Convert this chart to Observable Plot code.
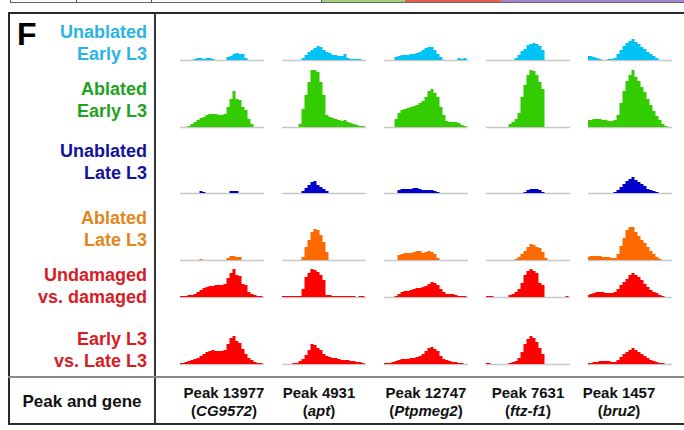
<!DOCTYPE html>
<html><head><meta charset="utf-8">
<script src="https://cdn.jsdelivr.net/npm/d3@7"></script>
<script src="https://cdn.jsdelivr.net/npm/@observablehq/plot@0.6"></script>
<style>
body{margin:0;background:#fff;font-family:"Liberation Sans",Arial,Helvetica,sans-serif;}
#fig{position:relative;width:684px;height:430px;overflow:hidden;background:#fff;}
.abs{position:absolute;}
.lab{position:absolute;right:537px;text-align:right;font-weight:bold;font-size:18px;line-height:22px;white-space:nowrap;}
.hd{position:absolute;width:120px;text-align:center;font-weight:bold;font-size:15px;line-height:18px;white-space:nowrap;color:#111;}
</style></head>
<body><div id="fig"></div>
<script>
// ---- data ----
const columns = ["Peak 13977", "Peak 4931", "Peak 12747", "Peak 7631", "Peak 1457"];
const genes = ["CG9572", "apt", "Ptpmeg2", "ftz-f1", "bru2"];
const rowLabels = [["Unablated", "Early L3"], ["Ablated", "Early L3"], ["Unablated", "Late L3"], ["Ablated", "Late L3"], ["Undamaged", "vs. damaged"], ["Early L3", "vs. Late L3"]];

const unablatedEarly = [
  [0,0,0,0,0,1,2,2,1,2,2,1,0,0,0,0,3,4,6,7,6,6,2,0,0,0,0,0,0],
  [0,0,0,0,0,0,0,2,5,8,10,12,14,13,10,8,7,5,5,4,4,6,2,1,1,1,1,0,0],
  [0,0,0,0,3,4,5,5,5,6,6,7,8,10,12,13,13,10,6,3,0,0,0,0,0,2,1,2,0],
  [0,0,0,0,0,0,0,0,0,0,2,5,9,11,15,16,17,16,14,10,0,0,0,0,0,0,0,0,0],
  [4,4,3,2,1,0,0,1,1,2,6,10,14,17,19,21,18,16,13,11,8,6,4,2,0,0,0,0,0]
];
const ablatedEarly = [
  [0,0,0,1,3,5,7,9,10,12,13,13,13,12,12,13,20,28,36,28,27,20,17,8,3,0,0,0,0],
  [0,0,0,0,0,0,3,18,32,45,57,57,55,45,32,12,10,9,8,7,6,7,5,4,3,2,1,1,0],
  [0,0,0,0,8,14,17,18,19,20,21,22,24,26,30,36,38,34,30,20,12,6,5,5,5,4,2,1,0],
  [0,0,0,0,0,0,0,0,3,5,8,14,30,42,52,57,56,52,45,38,0,0,0,0,0,0,0,0,0],
  [7,7,8,8,8,7,7,6,6,7,12,24,36,46,52,57,50,46,40,35,28,22,16,11,7,3,1,0,0]
];
const unablatedLate = [
  [0,0,0,0,0,0,0,2,1,0,0,0,0,0,0,0,0,2,2,2,0,0,0,0,0,0,0,0,0],
  [0,0,0,0,0,0,0,2,5,8,11,12,8,6,4,2,0,0,0,0,0,0,0,0,0,0,0,0,0],
  [0,0,0,0,0,3,4,4,4,4,5,5,4,3,3,3,3,2,1,0,0,0,0,0,0,0,0,0,0],
  [0,0,0,0,0,0,0,0,0,0,0,0,0,1,3,4,4,4,3,1,0,0,0,0,0,0,0,0,0],
  [0,0,0,0,0,0,0,0,0,1,3,6,9,12,14,16,13,11,9,7,4,3,2,1,0,0,0,0,0]
];
const ablatedLate = [
  [0,0,0,0,0,0,0,1,0,0,0,0,0,0,0,0,2,4,4,3,3,0,0,0,0,0,0,0,0],
  [0,0,0,0,0,0,0,3,13,20,28,31,30,25,18,8,0,0,0,0,0,0,0,0,0,0,0,0,0],
  [0,0,0,0,0,5,6,7,7,7,8,9,9,7,8,9,8,6,2,0,0,0,0,0,0,0,0,0,0],
  [0,0,0,0,0,0,0,0,0,0,1,3,6,9,13,16,15,13,12,8,2,0,0,0,0,0,0,0,0],
  [3,4,4,4,4,3,3,3,2,2,6,14,22,30,33,33,28,24,20,17,13,9,6,3,1,0,0,0,0]
];
const undamagedVsDamaged = [
  [1,1,1,2,2,3,5,7,9,10,11,11,12,12,12,13,19,24,28,22,21,13,12,5,3,2,1,1,0],
  [1,1,1,1,1,1,1,8,20,24,28,27,25,22,17,2,2,1,1,1,1,1,1,1,1,0,1,1,0],
  [0,0,0,0,1,3,5,6,6,7,8,9,9,10,11,13,15,14,12,8,5,3,3,3,2,1,1,1,0],
  [1,1,1,0,0,0,0,0,2,3,5,8,14,22,26,28,26,24,14,12,0,0,0,0,0,0,0,1,0],
  [2,3,4,5,5,5,4,4,4,5,8,12,15,18,22,24,22,20,17,13,10,7,5,4,2,1,0,0,0]
];
const earlyVsLate = [
  [1,1,2,3,4,5,6,8,10,12,13,14,13,13,13,14,20,26,28,23,21,15,10,6,4,2,1,1,0],
  [0,0,0,0,1,1,3,5,9,14,20,19,16,14,10,8,7,6,6,5,4,4,4,3,3,2,2,1,0],
  [1,1,1,2,3,4,5,5,5,6,6,7,8,10,13,16,17,15,13,8,5,4,3,2,2,1,1,0,0],
  [1,1,0,0,0,0,0,0,1,2,3,6,12,20,25,28,26,22,16,10,0,0,0,0,0,0,0,0,0],
  [1,1,2,2,3,3,3,3,2,2,4,7,10,12,14,16,14,12,10,8,6,4,3,2,1,1,0,0,0]
];

const trackColors = ["#00c3f5", "#33cc00", "#0000cc", "#ff6a00", "#ff0000", "#ff0000"];
const labelColors = ["#2ab4e2", "#1fa31f", "#12129e", "#e3861c", "#d81c26", "#d81c26"];

// ---- layout ----
const fig = document.getElementById("fig");
function div(css, html) { const d = document.createElement("div"); d.className = "abs"; d.style.cssText = css; if (html) d.innerHTML = html; fig.append(d); return d; }

const rows = [
  {data: unablatedEarly, base: 60, h: 60},
  {data: ablatedEarly, base: 127, h: 60},
  {data: unablatedLate, base: 193, h: 60},
  {data: ablatedLate, base: 260, h: 60},
  {data: undamagedVsDamaged, base: 297, h: 30},
  {data: earlyVsLate, base: 364, h: 30}
];

rows.forEach((r, k) => {
  const tidy = [];
  r.data.forEach((arr, c) => arr.forEach((v, i) => tidy.push({col: columns[c], i, v})));
  const svg = Plot.plot({
    width: 684, height: r.h + 2,
    marginLeft: 178, marginRight: 10, marginTop: 0, marginBottom: 2,
    style: {background: "transparent", overflow: "visible"},
    fx: {domain: columns, paddingInner: 0.18, paddingOuter: 0, axis: null, label: null},
    x: {domain: [0, 28], axis: null},
    y: {domain: [0, r.h], axis: null},
    marks: [
      Plot.ruleY([0], {stroke: "#c8c8c8", strokeWidth: 1.5}),
      Plot.areaY(tidy, {x: "i", y: "v", fx: "col", fill: trackColors[k], curve: "step"})
    ]
  });
  svg.style.position = "absolute"; svg.style.left = "0px"; svg.style.top = (r.base - r.h) + "px";
  fig.append(svg);
});

// top strip (remnant of panel above)
div("left:10px;top:0;width:674px;height:2px;border-bottom:1px solid #666;background:#fff;");
div("left:321px;top:0;width:84px;height:2px;background:#9fd27a;");
div("left:405px;top:0;width:96px;height:2px;background:#e4604e;");
div("left:501px;top:0;width:183px;height:2px;background:#a487c9;");
[10, 76, 151, 321].forEach(x => div(`left:${x}px;top:0;width:1px;height:3px;background:#555;`));

// frame
div("left:8px;top:12px;width:676px;height:2px;background:#2a2a2a;");
div("left:8px;top:12px;width:2px;height:413px;background:#2a2a2a;");
div("left:8px;top:423px;width:676px;height:2px;background:#2a2a2a;");
div("left:154px;top:13px;width:1.5px;height:411px;background:#333;");
div("left:8px;top:376px;width:676px;height:2px;background:#8a8a8a;");

// panel letter
div("left:17px;top:18px;font-size:32px;line-height:32px;font-weight:bold;color:#000;", "F");

// row labels
const labelTops = [21, 78, 140, 207, 264, 328];
rowLabels.forEach((l, k) => {
  const d = document.createElement("div");
  d.className = "lab";
  d.style.top = labelTops[k] + "px";
  d.style.color = labelColors[k];
  d.innerHTML = l[0] + "<br>" + l[1];
  fig.append(d);
});

// bottom header row
div("left:10px;top:391px;width:144px;text-align:center;font-size:17px;line-height:22px;font-weight:bold;color:#111;", "Peak and gene");
const headCenters = [224, 319, 426, 528, 619];
columns.forEach((c, k) => {
  const d = document.createElement("div");
  d.className = "hd";
  d.style.left = (headCenters[k] - 60) + "px";
  d.style.top = "384px";
  d.innerHTML = c + "<br>(<i>" + genes[k] + "</i>)";
  fig.append(d);
});
</script>
</body></html>
